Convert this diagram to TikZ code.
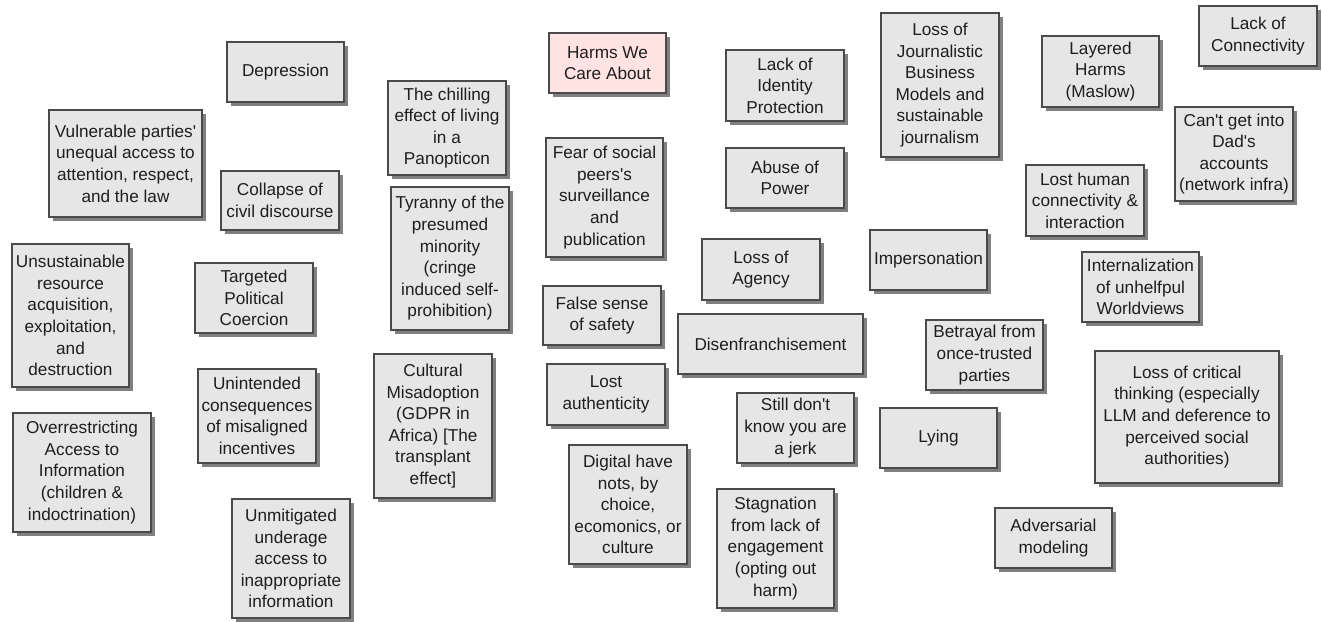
\documentclass[tikz,border=0pt]{standalone}
\usepackage{fontspec}
% straight apostrophes, as typed
\setmainfont{Liberation Sans}[Ligatures=TeXOff]
\usetikzlibrary{shadows}
\definecolor{boxfill}{HTML}{E6E6E6}
\definecolor{boxline}{HTML}{4A4A4A}
\definecolor{boxshadow}{HTML}{808080}
\definecolor{boxtext}{HTML}{1E1E1E}
\definecolor{rootfill}{HTML}{FFE2E2}
\tikzset{
  harm/.style={draw=boxline, line width=1.2pt, fill=boxfill, text=boxtext,
    rectangle, inner sep=0pt, align=center,
    font=\fontsize{17.2}{21.6}\selectfont,
    drop shadow={shadow xshift=4pt, shadow yshift=-4pt, fill=boxshadow, opacity=1}},
  root/.style={harm, fill=rootfill},
  sz/.style 2 args={minimum width=#1pt, minimum height=#2pt}
}
\begin{document}
\begin{tikzpicture}[x=1pt,y=-1pt]
\useasboundingbox (0,0) rectangle (1322,621);
\fill[white] (0,0) rectangle (1322,621);

% left column
\node[harm, sz={117}{60}]  (depression)   at (285.5,72)   {Depression};
\node[harm, sz={153}{107}] (vulnerable)   at (125.5,163.5) {Vulnerable parties'\\unequal access to\\attention, respect,\\and the law};
\node[harm, sz={118}{59}]  (collapse)     at (280,200.5)  {Collapse of\\civil discourse};
\node[harm, sz={117}{143}] (unsustain)    at (70.5,315.5) {Unsustainable\\resource\\acquisition,\\exploitation,\\and\\destruction};
\node[harm, sz={118}{70}]  (targeted)     at (254,298)    {Targeted\\Political\\Coercion};
\node[harm, sz={118}{94}]  (unintended)   at (257,416)    {Unintended\\consequences\\of misaligned\\incentives};
\node[harm, sz={138}{119}] (overrestrict) at (82,472.5)   {Overrestricting\\Access to\\Information\\(children \&\\indoctrination)};
\node[harm, sz={118}{119}] (unmitigated)  at (291,558.5)  {Unmitigated\\underage\\access to\\inappropriate\\information};

% middle-left column
\node[root, sz={117}{60}]  (harms)        at (607.5,63)   {Harms We\\Care About};
\node[harm, sz={118}{94}]  (chilling)     at (447,128)    {The chilling\\effect of living\\in a\\Panopticon};
\node[harm, sz={118}{143}] (tyranny)      at (450,258.5)  {Tyranny of the\\presumed\\minority\\(cringe\\induced self-\\prohibition)};
\node[harm, sz={117}{119}] (fear)         at (604.5,197.5) {Fear of social\\peers's\\surveillance\\and\\publication};
\node[harm, sz={118}{59}]  (falsesafety)  at (602,315.5)  {False sense\\of safety};
\node[harm, sz={118}{144}] (cultural)     at (433,426)    {Cultural\\Misadoption\\(GDPR in\\Africa) [The\\transplant\\effect]};
\node[harm, sz={118}{61}]  (authentic)    at (606,394.5)  {Lost\\authenticity};
\node[harm, sz={118}{119}] (digital)      at (628,504.5)  {Digital have\\nots, by\\choice,\\ecomonics, or\\culture};

% middle-right column
\node[harm, sz={118}{71}]  (identity)     at (785,85.5)   {Lack of\\Identity\\Protection};
\node[harm, sz={118}{144}] (journalism)   at (940,85)     {Loss of\\Journalistic\\Business\\Models and\\sustainable\\journalism};
\node[harm, sz={118}{60}]  (abuse)        at (785,178)    {Abuse of\\Power};
\node[harm, sz={118}{61}]  (agency)       at (761,269.5)  {Loss of\\Agency};
\node[harm, sz={117}{60}]  (imperson)     at (928.5,260)  {Impersonation};
\node[harm, sz={185}{60}]  (disenfr)      at (770.5,344)  {Disenfranchisement};
\node[harm, sz={117}{70}]  (betrayal)     at (984.5,355)  {Betrayal from\\once-trusted\\parties};
\node[harm, sz={117}{70}]  (jerk)         at (795.5,428)  {Still don't\\know you are\\a jerk};
\node[harm, sz={117}{60}]  (lying)        at (938.5,438)  {Lying};
\node[harm, sz={117}{119}] (stagnation)   at (775.5,548.5) {Stagnation\\from lack of\\engagement\\(opting out\\harm)};

% right column
\node[harm, sz={118}{60}]  (connectivity) at (1258,36)    {Lack of\\Connectivity};
\node[harm, sz={117}{71}]  (layered)      at (1100.5,71.5) {Layered\\Harms\\(Maslow)};
\node[harm, sz={118}{94}]  (dadaccounts)  at (1234,154)   {Can't get into\\Dad's\\accounts\\(network infra)};
\node[harm, sz={118}{71}]  (losthuman)    at (1085,200.5) {Lost human\\connectivity \&\\interaction};
\node[harm, sz={117}{70}]  (internal)     at (1140.5,287) {Internalization\\of unhelfpul\\Worldviews};
\node[harm, sz={184}{132}] (critical)     at (1187,417)   {Loss of critical\\thinking (especially\\LLM and deference to\\perceived social\\authorities)};
\node[harm, sz={117}{60}]  (adversarial)  at (1053.5,538) {Adversarial\\modeling};
\end{tikzpicture}
\end{document}
